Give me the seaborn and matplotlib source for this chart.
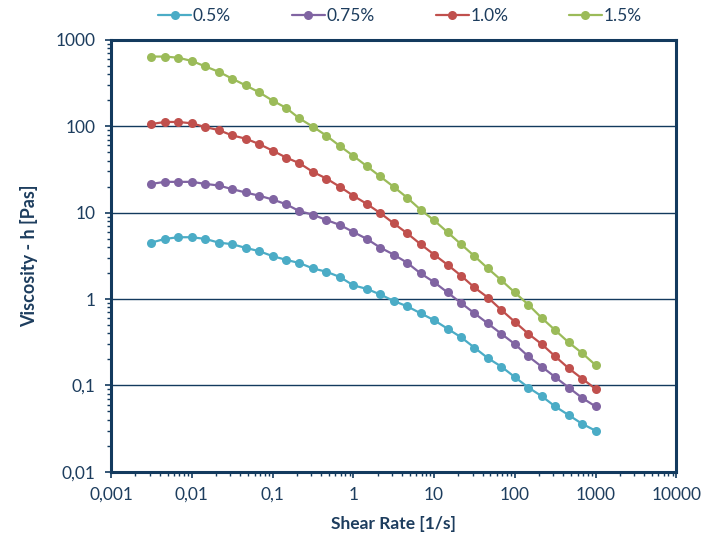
import matplotlib
matplotlib.use("Agg")
import matplotlib.pyplot as plt
import matplotlib.ticker as mticker
import seaborn as sns
import pandas as pd

# shear rate [1/s]
shear_rate = [0.00316, 0.00464, 0.00681, 0.01, 0.0147, 0.0215, 0.0316, 0.0464, 0.0681,
              0.1, 0.147, 0.215, 0.316, 0.464, 0.681, 1, 1.47, 2.15, 3.16, 4.64, 6.81,
              10, 14.7, 21.5, 31.6, 46.4, 68.1, 100, 147, 215, 316, 464, 681, 1000]

# viscosity [Pas] per concentration
visc_05 = [4.5, 4.96, 5.19, 5.19, 4.96, 4.5, 4.31, 3.91, 3.58, 3.14, 2.84, 2.61, 2.26,
           2.07, 1.80, 1.44, 1.31, 1.13, 0.95, 0.824, 0.684, 0.569, 0.453, 0.362,
           0.274, 0.207, 0.165, 0.125, 0.0946, 0.0752, 0.0571, 0.0454, 0.036, 0.0299]
visc_075 = [21.5, 22.7, 22.7, 22.7, 21.5, 20.6, 18.7, 17.1, 15.7, 14.2, 12.5, 10.4,
            9.46, 8.22, 7.20, 5.97, 4.96, 3.94, 3.27, 2.63, 1.98, 1.57, 1.19, 0.902,
            0.684, 0.521, 0.396, 0.301, 0.217, 0.165, 0.125, 0.0946, 0.0718, 0.0571]
visc_10 = [106, 112, 112, 108, 97.7, 90.2, 78.3, 71.8, 62.2, 52.2, 43.4, 37.3, 29.6,
           24.8, 19.9, 15.7, 12.6, 9.9, 7.52, 5.77, 4.31, 3.27, 2.49, 1.87, 1.36,
           1.04, 0.748, 0.544, 0.396, 0.301, 0.217, 0.158, 0.12, 0.0912]
visc_15 = [640, 640, 620, 569, 492, 427, 355, 297, 247, 198, 163, 123, 98.7, 77.7,
           59, 45.3, 34.5, 26.2, 19.9, 14.9, 10.8, 8.15, 5.93, 4.32, 3.14, 2.26, 1.65,
           1.19, 0.861, 0.605, 0.436, 0.315, 0.237, 0.172]

labels = ["0.5%", "0.75%", "1.0%", "1.5%"]
colors = ["#4bacc6", "#8064a2", "#c0504d", "#9bbb59"]

xticks = [0.001, 0.01, 0.1, 1, 10, 100, 1000, 10000]
xticklabels = ["0,001", "0,01", "0,1", "1", "10", "100", "1000", "10000"]
yticks = [0.01, 0.1, 1, 10, 100, 1000]
yticklabels = ["0,01", "0,1", "1", "10", "100", "1000"]

frames = []
for lab, vals in zip(labels, [visc_05, visc_075, visc_10, visc_15]):
    frames.append(pd.DataFrame({"rate": shear_rate, "visc": vals, "conc": lab}))
df = pd.concat(frames, ignore_index=True)

sns.set_style("white")
plt.rcParams["font.family"] = ["Lato", "DejaVu Sans"]
navy = "#133a5e"
text_c = "#1d3d5e"

fig = plt.figure(figsize=(7.03, 5.38), dpi=100)
ax = fig.add_axes([0.158, 0.123, 0.804, 0.803])

sns.lineplot(data=df, x="rate", y="visc", hue="conc", hue_order=labels,
             palette=colors, marker="o", markersize=6.5, markeredgewidth=0,
             linewidth=1.6, ax=ax, legend=False)

ax.set_xscale("log")
ax.set_yscale("log")
ax.set_xlim(0.001, 10000)
ax.set_ylim(0.01, 1000)

ax.set_xticks(xticks)
ax.set_xticklabels(xticklabels)
ax.set_yticks(yticks)
ax.set_yticklabels(yticklabels)
ax.xaxis.set_minor_locator(mticker.LogLocator(base=10, subs=range(2, 10), numticks=20))
ax.yaxis.set_minor_locator(mticker.LogLocator(base=10, subs=range(2, 10), numticks=20))
ax.xaxis.set_minor_formatter(mticker.NullFormatter())
ax.yaxis.set_minor_formatter(mticker.NullFormatter())

ax.tick_params(axis="both", which="major", direction="out", length=4, width=1.2,
               color=navy, labelsize=12.5, labelcolor=text_c, pad=7,
               bottom=True, left=True)
ax.tick_params(axis="both", which="minor", direction="out", length=3, width=1.0,
               color=navy, bottom=True, left=True)

ax.yaxis.grid(True, which="major", color=navy, linewidth=1.0)
ax.xaxis.grid(False)
for sp in ax.spines.values():
    sp.set_visible(True)
    sp.set_color(navy)
    sp.set_linewidth(2.2)

ax.set_xlabel("Shear Rate [1/s]", fontsize=12.5, fontweight="bold", color=text_c, labelpad=9)
ax.set_ylabel("Viscosity - h [Pas]", fontsize=13, fontweight="bold", color=text_c, labelpad=13)

handles = [plt.Line2D([], [], color=c, marker="o", markersize=6.5, markeredgewidth=0,
                      linewidth=1.6) for c in colors]
fig.legend(handles, labels, loc="center", bbox_to_anchor=(0.569, 0.97), ncol=4,
           frameon=False, fontsize=12.5, labelcolor=text_c, handlelength=1.9,
           handletextpad=0.1, columnspacing=3.5)

fig.savefig("out.png", dpi=100)
